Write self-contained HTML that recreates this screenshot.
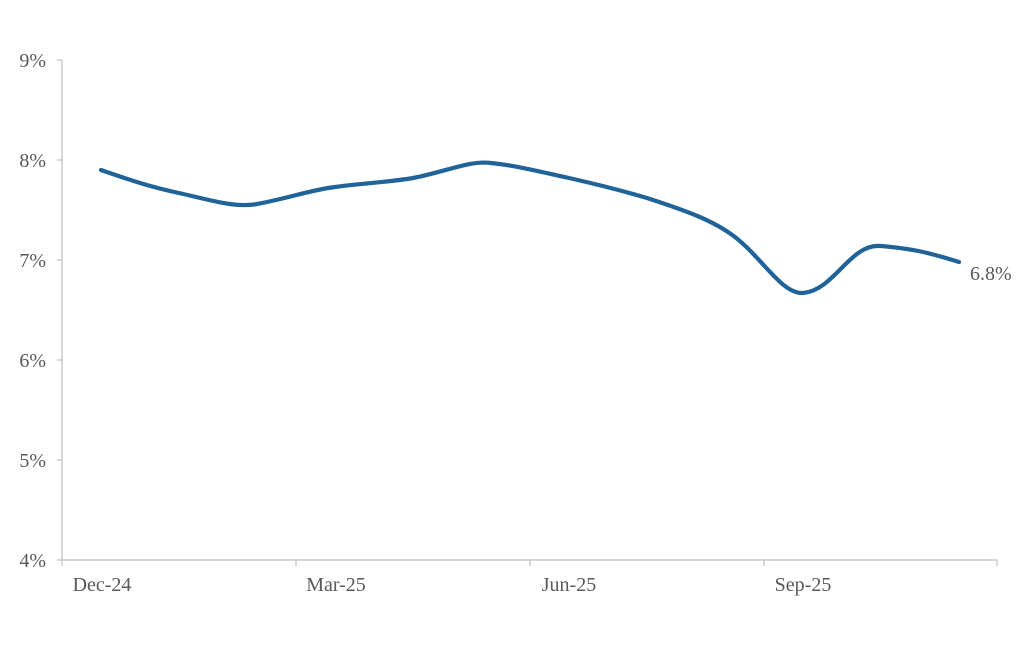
<!DOCTYPE html>
<html><head><style>body{margin:0;background:#fff}</style></head><body>
<svg width="1024" height="654" xmlns="http://www.w3.org/2000/svg" font-family="Liberation Serif, serif" fill="#595959">
<g stroke="#bfbfbf" stroke-width="1.2">
<line x1="62" y1="60" x2="62" y2="560"/>
<line x1="62" y1="560" x2="997" y2="560"/>
<line x1="57" y1="60" x2="62" y2="60"/><line x1="57" y1="160" x2="62" y2="160"/><line x1="57" y1="260" x2="62" y2="260"/><line x1="57" y1="360" x2="62" y2="360"/><line x1="57" y1="460" x2="62" y2="460"/><line x1="57" y1="560" x2="62" y2="560"/>
<line x1="62" y1="560" x2="62" y2="566"/><line x1="296" y1="560" x2="296" y2="566"/><line x1="530" y1="560" x2="530" y2="566"/><line x1="764" y1="560" x2="764" y2="566"/><line x1="997" y1="560" x2="997" y2="566"/>
</g>
<g font-size="20" text-anchor="end">
<text x="46" y="67">9%</text><text x="46" y="167">8%</text><text x="46" y="267">7%</text><text x="46" y="367">6%</text><text x="46" y="467">5%</text><text x="46" y="567">4%</text>
</g>
<g font-size="20" text-anchor="middle">
<text x="102" y="591">Dec-24</text><text x="336" y="591">Mar-25</text><text x="569" y="591">Jun-25</text><text x="803" y="591">Sep-25</text>
</g>
<path d="M101,170 C130,180 150,187 179,193 C210,200 235,208 257,204 C290,198 310,190 335,187 C365,183 390,182 413,178 C445,172 470,160 491,163 C520,166 545,173 569,178 C600,185 620,190 647,198 C690,212 710,220 728,232 C760,253 780,294 803,293 C835,290 850,243 881,246 C915,249 930,253 959,262" fill="none" stroke="#1f6399" stroke-width="4.2" stroke-linecap="round"/>
<text x="970" y="280" font-size="20">6.8%</text>
</svg>
</body></html>
